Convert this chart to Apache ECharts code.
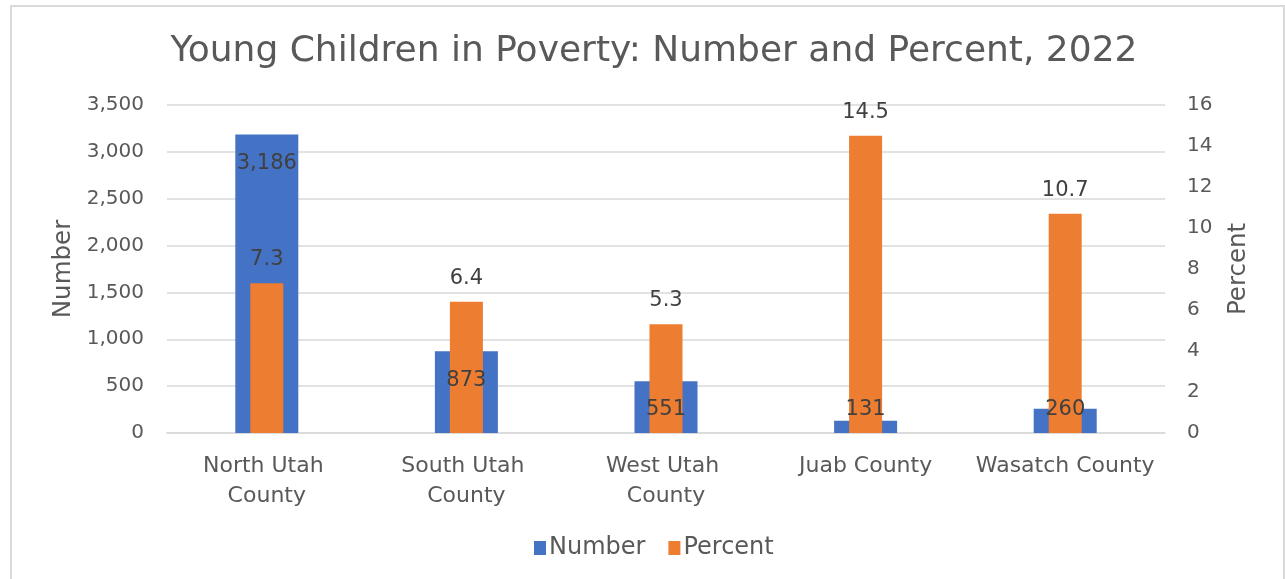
<!DOCTYPE html>
<html>
<head>
<meta charset="utf-8">
<script src="https://cdn.jsdelivr.net/npm/echarts@6/dist/echarts.min.js"></script>
<style>
html,body{margin:0;padding:0;background:#fff;}
#chart{width:1285px;height:579px;}
</style>
</head>
<body>
<div id="chart"></div>
<script>
const categories = ["North Utah County", "South Utah County", "West Utah County", "Juab County", "Wasatch County"];
const numberValues = [3186, 873, 551, 131, 260];
const percentValues = [7.3, 6.4, 5.3, 14.5, 10.7];
const leftTicks = { min: 0, max: 3500, interval: 500 };
const rightTicks = { min: 0, max: 16, interval: 2 };

const FONT = "DejaVu Sans";
const TXT = "#595959";
const LBL = "#404040";

const chart = echarts.init(document.getElementById('chart'), null, { renderer: 'canvas' });

const numberLabelData = numberValues.map(v => {
  const small = v / leftTicks.max < 0.165;
  return {
    value: v,
    label: small ? { position: 'insideBottom', distance: 13 } : { position: 'insideTop', distance: 19 }
  };
});

const option = {
  backgroundColor: '#fff',
  animation: false,
  textStyle: { fontFamily: FONT },
  title: {
    text: 'Young Children in Poverty: Number and Percent, 2022',
    left: 649, top: 29, textAlign: 'center',
    textStyle: { fontFamily: FONT, fontSize: 36, fontWeight: 'normal', color: TXT }
  },
  graphic: [{
    type: 'rect', shape: { x: 11, y: 6, width: 1273, height: 600 },
    style: { fill: 'none', stroke: '#d9d9d9', lineWidth: 2 }, silent: true, z: -1
  }],
  legend: {
    data: ['Number', 'Percent'],
    left: 529, top: 531,
    itemWidth: 12, itemHeight: 14, itemGap: 23,
    icon: 'rect',
    textStyle: { fontFamily: FONT, fontSize: 24, color: TXT, padding: [0, 0, 0, -2] }
  },
  grid: { left: 167, right: 120, top: 105, bottom: 146, containLabel: false },
  xAxis: [
    {
      type: 'category', data: categories,
      axisLine: { show: true, lineStyle: { color: '#d9d9d9', width: 1.5 } },
      axisTick: { show: false },
      axisLabel: {
        fontFamily: FONT, fontSize: 22, color: TXT, margin: 18, lineHeight: 30,
        width: 198, overflow: 'break', interval: 0
      }
    },
    { type: 'category', data: categories, show: false }
  ],
  yAxis: [
    {
      type: 'value', min: leftTicks.min, max: leftTicks.max, interval: leftTicks.interval,
      name: 'Number', nameLocation: 'middle', nameGap: 91, nameRotate: 90,
      nameTextStyle: { fontFamily: FONT, fontSize: 24.5, color: TXT },
      axisLine: { show: false }, axisTick: { show: false },
      axisLabel: {
        fontFamily: FONT, fontSize: 20, color: TXT, margin: 23,
        formatter: v => v.toLocaleString('en-US')
      },
      splitLine: { lineStyle: { color: '#d9d9d9', width: 1.5 } }
    },
    {
      type: 'value', min: rightTicks.min, max: rightTicks.max, interval: rightTicks.interval,
      name: 'Percent', nameLocation: 'middle', nameGap: 61, nameRotate: 90,
      nameTextStyle: { fontFamily: FONT, fontSize: 24.5, color: TXT },
      axisLine: { show: false }, axisTick: { show: false },
      axisLabel: { fontFamily: FONT, fontSize: 20, color: TXT, margin: 22 },
      splitLine: { show: false }
    }
  ],
  series: [
    {
      name: 'Number', type: 'bar', xAxisIndex: 0, yAxisIndex: 0,
      data: numberValues, barWidth: 63, barGap: '-100%',
      itemStyle: { color: '#4472C4' },
      label: { show: false },
      z: 2
    },
    {
      name: 'Percent', type: 'bar', xAxisIndex: 1, yAxisIndex: 1,
      data: percentValues, barWidth: 33,
      itemStyle: { color: '#ED7D31' },
      label: { show: true, position: 'top', distance: 13, fontFamily: FONT, fontSize: 21, color: LBL,
        formatter: p => p.value.toFixed(1) },
      z: 3
    },
    {
      name: 'Number labels', type: 'bar', xAxisIndex: 0, yAxisIndex: 0,
      data: numberLabelData, barWidth: 63, barGap: '-100%',
      itemStyle: { color: 'rgba(0,0,0,0)' },
      label: { show: true, fontFamily: FONT, fontSize: 21, color: LBL,
        formatter: p => p.value.toLocaleString('en-US') },
      silent: true, tooltip: { show: false },
      z: 4
    }
  ]
};
chart.setOption(option);
</script>
</body>
</html>
